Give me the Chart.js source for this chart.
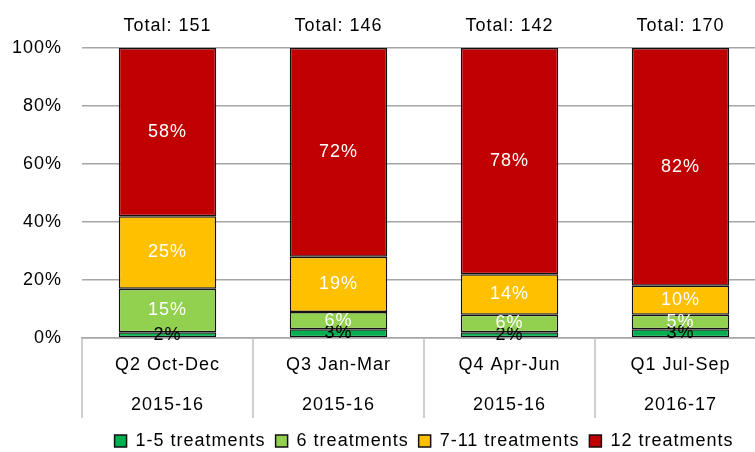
<!DOCTYPE html>
<html>
<head>
<meta charset="utf-8">
<script src="https://cdn.jsdelivr.net/npm/chart.js@4"></script>
<style>
  html, body { margin: 0; padding: 0; background: #fff; overflow: hidden; }
  #wrap { width: 766px; height: 452px; }
</style>
</head>
<body>
<div id="wrap"><canvas id="treatments" width="766" height="452"></canvas></div>
<script>
const quarters = [['Q2 Oct-Dec', '2015-16'], ['Q3 Jan-Mar', '2015-16'], ['Q4 Apr-Jun', '2015-16'], ['Q1 Jul-Sep', '2016-17']];
const totals = [151, 146, 142, 170];
const oneToFive = [2, 3, 2, 3];
const six = [15, 6, 6, 5];
const sevenToEleven = [25, 19, 14, 10];
const twelve = [58, 72, 78, 82];
const yTicks = [0, 20, 40, 60, 80, 100];

const font = { family: '"Liberation Sans", Arial, sans-serif', size: 18 };
const gridGrey = '#a6a6a6';

// Chart.js has no letter spacing option, the reference text is set a bit loose
const spacing = {
  id: 'spacing',
  beforeUpdate(chart) { chart.ctx.letterSpacing = '1px'; },
  beforeDraw(chart) { chart.ctx.letterSpacing = '1px'; }
};

// value labels, totals above the bars and the category dividers under the axis
const barLabels = {
  id: 'barLabels',
  afterDatasetsDraw(chart) {
    const ctx = chart.ctx;
    const x = chart.scales.x;
    const area = chart.chartArea;
    ctx.save();
    ctx.font = '18px "Liberation Sans", Arial, sans-serif';
    ctx.textAlign = 'center';
    ctx.textBaseline = 'middle';
    chart.data.datasets.forEach((ds, i) => {
      chart.getDatasetMeta(i).data.forEach((bar, j) => {
        const p = bar.getProps(['x', 'y', 'base'], true);
        ctx.fillStyle = i === 0 ? '#000' : '#fff';
        ctx.fillText(ds.data[j] + '%', p.x, (p.y + p.base) / 2);
      });
    });
    ctx.fillStyle = '#000';
    chart.getDatasetMeta(0).data.forEach((bar, j) => {
      ctx.fillText('Total: ' + totals[j], bar.x, area.top - 22);
    });
    const band = (x.right - x.left) / quarters.length;
    ctx.strokeStyle = '#bfbfbf';
    ctx.lineWidth = 1.5;
    quarters.forEach((q, j) => {
      const px = Math.round(x.getPixelForValue(j) - band / 2);
      ctx.beginPath();
      ctx.moveTo(px, area.bottom);
      ctx.lineTo(px, area.bottom + 80);
      ctx.stroke();
    });
    ctx.restore();
  }
};

const ctx = document.getElementById('treatments').getContext('2d');

new Chart(ctx, {
  type: 'bar',
  data: {
    labels: quarters,
    datasets: [
      { label: '1-5 treatments', data: oneToFive, backgroundColor: '#00B050' },
      { label: '6 treatments', data: six, backgroundColor: '#92D050' },
      { label: '7-11 treatments', data: sevenToEleven, backgroundColor: '#FFC000' },
      { label: '12 treatments', data: twelve, backgroundColor: '#C00000' }
    ].map(d => Object.assign(d, {
      borderColor: '#111',
      borderWidth: 1.5,
      borderSkipped: false,
      barPercentage: 0.57,
      categoryPercentage: 1
    }))
  },
  options: {
    responsive: false,
    animation: false,
    devicePixelRatio: 1,
    layout: { padding: { top: 48, bottom: -8, left: 0, right: 0 } },
    scales: {
      x: {
        stacked: true,
        border: { color: gridGrey, width: 1.5 },
        grid: { display: false, drawTicks: false },
        ticks: {
          color: '#000',
          font: Object.assign({ lineHeight: 40 / 18 }, font),
          padding: 7,
          maxRotation: 0,
          autoSkip: false
        },
        afterFit(scale) { scale.height = 84; }
      },
      y: {
        stacked: true,
        min: 0,
        max: 100,
        border: { display: false },
        grid: { color: gridGrey, lineWidth: 1.5, drawTicks: false },
        ticks: {
          color: '#000',
          font: font,
          padding: 20,
          callback: v => v + '%'
        },
        afterBuildTicks(scale) { scale.ticks = yTicks.map(v => ({ value: v })); },
        afterFit(scale) { scale.width = 82; }
      }
    },
    plugins: {
      legend: {
        position: 'bottom',
        fullSize: false,
        labels: {
          color: '#000',
          font: font,
          boxWidth: 12,
          boxHeight: 12,
          padding: 10
        }
      },
      tooltip: { enabled: false }
    }
  },
  plugins: [spacing, barLabels]
});
</script>
</body>
</html>
